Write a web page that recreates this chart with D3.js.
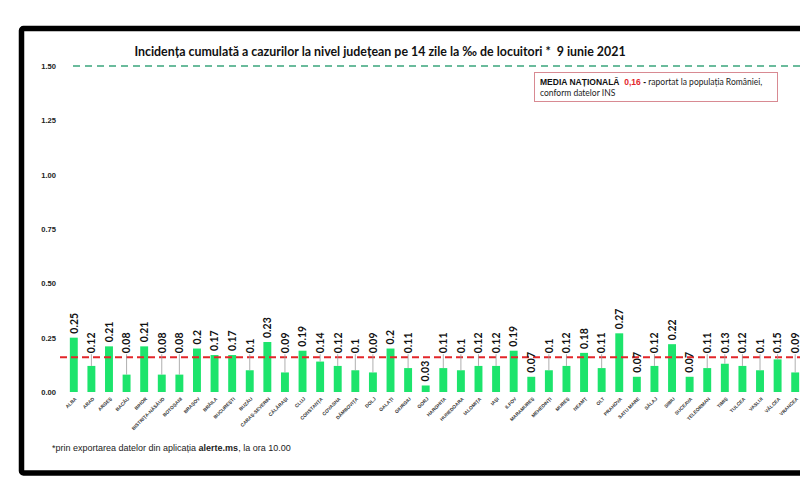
<!DOCTYPE html>
<html lang="ro">
<head>
<meta charset="UTF-8">
<script src="https://d3js.org/d3.v7.min.js"></script>
<style>
  body { margin: 0; background: #fff; }
  svg { display: block; }
  text { white-space: pre; }
</style>
</head>
<body>
<svg width="800" height="496"></svg>
<script>
  const judete = ["ALBA", "ARAD", "ARGEȘ", "BACĂU", "BIHOR", "BISTRIȚA-NĂSĂUD", "BOTOȘANI", "BRAȘOV",
    "BRĂILA", "BUCUREȘTI", "BUZĂU", "CARAȘ-SEVERIN", "CĂLĂRAȘI", "CLUJ", "CONSTANȚA", "COVASNA",
    "DÂMBOVIȚA", "DOLJ", "GALAȚI", "GIURGIU", "GORJ", "HARGHITA", "HUNEDOARA", "IALOMIȚA", "IAȘI",
    "ILFOV", "MARAMUREȘ", "MEHEDINȚI", "MUREȘ", "NEAMȚ", "OLT", "PRAHOVA", "SATU MARE", "SĂLAJ",
    "SIBIU", "SUCEAVA", "TELEORMAN", "TIMIȘ", "TULCEA", "VASLUI", "VÂLCEA", "VRANCEA"];

  const incidenta = [0.25, 0.12, 0.21, 0.08, 0.21, 0.08, 0.08, 0.2,
    0.17, 0.17, 0.1, 0.23, 0.09, 0.19, 0.14, 0.12,
    0.1, 0.09, 0.2, 0.11, 0.03, 0.11, 0.1, 0.12, 0.12,
    0.19, 0.07, 0.1, 0.12, 0.18, 0.11, 0.27, 0.07, 0.12,
    0.22, 0.07, 0.11, 0.13, 0.12, 0.1, 0.15, 0.09];

  const yTicks = [0, 0.25, 0.5, 0.75, 1, 1.25, 1.5];
  const mediaNationala = 0.16;
  const pragMaxim = 1.5;

  const svg = d3.select("svg");

  // black frame (right side runs off the picture)
  svg.append("rect")
    .attr("x", 21.5).attr("y", 28.5)
    .attr("width", 840).attr("height", 444.5)
    .attr("rx", 2)
    .attr("fill", "none")
    .attr("stroke", "#000")
    .attr("stroke-width", 5.5);

  const x = d3.scaleBand()
    .domain(judete)
    .range([65, 804])
    .paddingInner(0.55)
    .paddingOuter(0.275);

  const y = d3.scaleLinear()
    .domain([0, 1.5])
    .range([392, 66]);

  // title
  svg.append("text")
    .attr("x", 380).attr("y", 56)
    .attr("text-anchor", "middle")
    .attr("font-family", "Lato, sans-serif")
    .attr("font-weight", "bold")
    .attr("font-size", 12.4)
    .attr("fill", "#111")
    .text("Incidența cumulată a cazurilor la nivel județean pe 14 zile la ‰ de locuitori *  9 iunie 2021");

  // y axis labels
  const yAxis = d3.axisLeft(y)
    .tickValues(yTicks)
    .tickFormat(d3.format(".2f"))
    .tickSize(0)
    .tickPadding(0);

  svg.append("g")
    .attr("transform", "translate(56,0)")
    .call(yAxis)
    .call(g => g.select(".domain").remove())
    .call(g => g.selectAll("text")
      .attr("font-family", "Liberation Sans, Arial, sans-serif")
      .attr("font-weight", "bold")
      .attr("font-size", 7.6)
      .attr("fill", "#222"));

  // green dashed line at 1.50
  svg.append("line")
    .attr("x1", 73).attr("x2", 800)
    .attr("y1", y(pragMaxim)).attr("y2", y(pragMaxim))
    .attr("stroke", "#3aa57c")
    .attr("stroke-width", 1.3)
    .attr("stroke-dasharray", "7,5");

  // bars
  svg.append("g")
    .selectAll("rect")
    .data(judete)
    .join("rect")
    .attr("x", d => x(d))
    .attr("y", (d, i) => y(incidenta[i]))
    .attr("width", x.bandwidth())
    .attr("height", (d, i) => y(0) - y(incidenta[i]))
    .attr("fill", "#1de46c");

  // national average
  svg.append("line")
    .attr("x1", 60).attr("x2", 800)
    .attr("y1", y(mediaNationala)).attr("y2", y(mediaNationala))
    .attr("stroke", "#e3262a")
    .attr("stroke-width", 2)
    .attr("stroke-dasharray", "7,4");

  // value labels: small values are lifted above the average line with a leader
  const lifted = v => v < mediaNationala && v > 0.07;
  const labelBase = (v) => lifted(v) ? y(mediaNationala) - 4 : y(v) - 4;

  const labels = svg.append("g");
  judete.forEach((d, i) => {
    const v = incidenta[i];
    const cx = x(d) + x.bandwidth() / 2;
    const b = labelBase(v);
    if (lifted(v) && y(v) - b > 6) {
      labels.append("line")
        .attr("x1", cx).attr("x2", cx)
        .attr("y1", b + 1).attr("y2", y(v))
        .attr("stroke", "#9a9a9a")
        .attr("stroke-width", 0.8);
    }
    labels.append("text")
      .attr("transform", `translate(${cx},${b}) rotate(-90)`)
      .attr("dy", "0.36em")
      .attr("font-family", "Lato, sans-serif")
      .attr("font-weight", "bold")
      .attr("font-size", 10.5)
      .attr("fill", "#111")
      .text(String(v));
  });

  // category labels
  svg.append("g")
    .selectAll("text")
    .data(judete)
    .join("text")
    .attr("transform", d => `translate(${x(d) + x.bandwidth() / 2 + 2},${398}) rotate(-45)`)
    .attr("text-anchor", "end")
    .attr("dy", "0.35em")
    .attr("font-family", "Liberation Sans, Arial, sans-serif")
    .attr("font-weight", "bold")
    .attr("font-size", 4.8)
    .attr("fill", "#333")
    .text(d => d);

  // legend box
  const lg = svg.append("g");
  lg.append("rect")
    .attr("x", 534.5).attr("y", 72.5)
    .attr("width", 243).attr("height", 29)
    .attr("fill", "#fff")
    .attr("stroke", "#d88a92")
    .attr("stroke-width", 1);
  const l1 = lg.append("text")
    .attr("x", 540).attr("y", 85)
    .attr("font-family", "Liberation Sans, Arial, sans-serif")
    .attr("font-size", 8.5);
  l1.append("tspan").attr("font-weight", "bold").attr("fill", "#111").text("MEDIA NAȚIONALĂ ");
  l1.append("tspan").attr("font-weight", "bold").attr("fill", "#e3262a").text(" 0,16 ");
  l1.append("tspan").attr("font-weight", "bold").attr("fill", "#111").text("- ");
  l1.append("tspan").attr("font-family", "Lato, sans-serif").attr("fill", "#222").text("raportat la populația României,");
  lg.append("text")
    .attr("x", 540).attr("y", 96)
    .attr("font-family", "Lato, sans-serif")
    .attr("font-size", 8.5)
    .attr("fill", "#222")
    .text("conform datelor INS");

  // footnote
  const fn = svg.append("text")
    .attr("x", 52).attr("y", 451)
    .attr("font-family", "Liberation Sans, Arial, sans-serif")
    .attr("font-size", 9)
    .attr("fill", "#222");
  fn.append("tspan").text("*prin exportarea datelor din aplicația ");
  fn.append("tspan").attr("font-weight", "bold").text("alerte.ms");
  fn.append("tspan").text(", la ora 10.00");
</script>
</body>
</html>
